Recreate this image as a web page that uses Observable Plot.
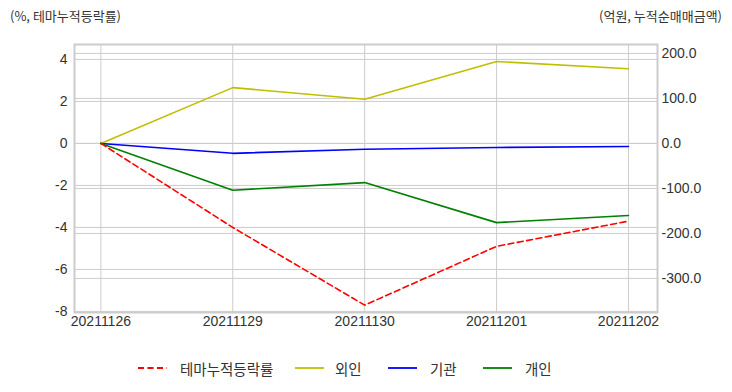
<!DOCTYPE html>
<html>
<head>
<meta charset="utf-8">
<script src="https://cdn.jsdelivr.net/npm/d3@7"></script>
<script src="https://cdn.jsdelivr.net/npm/@observablehq/plot@0.6"></script>
<style>
  body { margin: 0; background: #fff; }
  #wrap { position: relative; width: 732px; height: 392px; font-family: "Liberation Sans", "Noto Sans CJK KR", sans-serif; color: #333; }
  .ttl { position: absolute; top: 6px; font-size: 13px; font-family: "Noto Sans CJK KR", "Liberation Sans", sans-serif; color: #333; }
  #legend { position: absolute; top: 0; left: 0; width: 732px; height: 392px; font-size: 14.5px; font-family: "Noto Sans CJK KR", sans-serif; color: #333; }
  #legend .sw { position: absolute; top: 363px; }
  #legend .lb { position: absolute; top: 358px; line-height: 22px; }
</style>
</head>
<body>
<div id="wrap">
  <div class="ttl" style="left:10px">(%, 테마누적등락률)</div>
  <div class="ttl" style="right:10px">(억원, 누적순매매금액)</div>
  <div id="chart" style="position:absolute;left:0;top:0"></div>
  <div id="legend"></div>
</div>
<script>
const dates = ["20211126", "20211129", "20211130", "20211201", "20211202"];
const themeRate = [0, -4.0, -7.7, -4.9, -3.7];      // left axis (%)
const foreign = [0, 124, 98, 182, 166];             // right axis (억원)
const institution = [0, -22, -13, -9, -7];
const individual = [0, -104, -87, -176, -160];
const leftTicks = [-8, -6, -4, -2, 0, 2, 4];
const rightTicks = [-300, -200, -100, 0, 100, 200];

const seriesNames = ["테마누적등락률", "외인", "기관", "개인"];
const seriesColors = ["#ff0000", "#bfbf00", "#0000ff", "#008000"];

// right axis values mapped into left-axis units
const k = 0.45 / 21;
const toLeft = v => v * k;

const rows = [];
dates.forEach((d, i) => {
  rows.push({i, name: "테마누적등락률", y: themeRate[i]});
  rows.push({i, name: "외인", y: toLeft(foreign[i])});
  rows.push({i, name: "기관", y: toLeft(institution[i])});
  rows.push({i, name: "개인", y: toLeft(individual[i])});
});

const gridColor = "#cccccc";
const plot = Plot.plot({
  width: 732,
  height: 340,
  marginTop: 44,
  marginBottom: 28,
  marginLeft: 74,
  marginRight: 75,
  style: {fontFamily: "Liberation Sans, sans-serif", fontSize: "14px", color: "#333"},
  x: {domain: [-0.2, 4.22]},
  y: {domain: [-8.05, 4.71]},
  marks: [
    Plot.gridX([0, 1, 2, 3, 4], {stroke: gridColor, strokeOpacity: 1}),
    Plot.gridY(leftTicks, {stroke: gridColor, strokeOpacity: 1}),
    Plot.gridY(rightTicks.map(toLeft), {stroke: gridColor, strokeOpacity: 1}),
    Plot.frame({stroke: gridColor, strokeWidth: 2}),
    Plot.axisX([0, 1, 2, 3, 4], {tickFormat: i => dates[i], tickSize: 0, tickPadding: 4, label: null, fontSize: 14}),
    Plot.axisY(leftTicks, {anchor: "left", tickSize: 0, tickPadding: 7, label: null, tickFormat: d => d, fontSize: 14}),
    Plot.axisY(rightTicks.map(toLeft), {anchor: "right", tickSize: 0, tickPadding: 4, label: null,
      tickFormat: (d, j) => rightTicks[j].toFixed(1), fontSize: 14}),
    Plot.line(rows.filter(r => r.name === "외인"), {x: "i", y: "y", stroke: seriesColors[1], strokeWidth: 1.6}),
    Plot.line(rows.filter(r => r.name === "기관"), {x: "i", y: "y", stroke: seriesColors[2], strokeWidth: 1.6}),
    Plot.line(rows.filter(r => r.name === "개인"), {x: "i", y: "y", stroke: seriesColors[3], strokeWidth: 1.6}),
    Plot.line(rows.filter(r => r.name === "테마누적등락률"), {x: "i", y: "y", stroke: seriesColors[0], strokeWidth: 1.6, strokeDasharray: "6,3.5"})
  ]
});
document.getElementById("chart").appendChild(plot);

const legend = document.getElementById("legend");
const swatchX = [138, 295, 388, 483];
const labelX = [180, 335, 430, 525];
seriesNames.forEach((n, j) => {
  const dash = j === 0 ? 'stroke-dasharray="6,3.5"' : '';
  legend.insertAdjacentHTML("beforeend",
    `<svg class="sw" style="left:${swatchX[j]}px" width="29" height="10"><line x1="0" y1="5" x2="29" y2="5" stroke="${seriesColors[j]}" stroke-width="1.8" ${dash}/></svg>` +
    `<span class="lb" style="left:${labelX[j]}px">${n}</span>`);
});
</script>
</body>
</html>
